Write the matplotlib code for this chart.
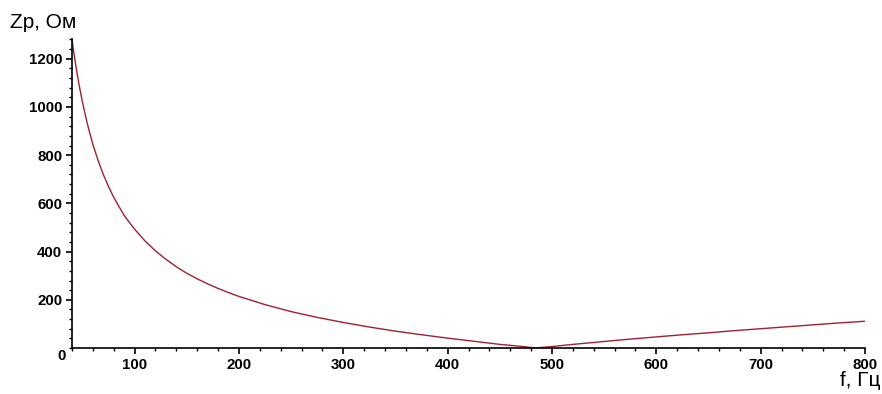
import matplotlib
matplotlib.use("Agg")
import matplotlib.pyplot as plt
from matplotlib.ticker import MultipleLocator

# Values
freq_hz = [40, 42, 45, 47, 50, 55, 60, 65, 70, 75, 80, 85, 90, 95, 100, 110, 120, 130,
           140, 150, 160, 170, 180, 190, 200, 225, 250, 275, 300, 325, 350, 375, 400,
           425, 450, 460, 470, 475, 480, 485, 490, 495, 500, 520, 550, 575, 600, 625,
           650, 675, 700, 725, 750, 775, 800]
impedance_ohm = [1280, 1218, 1135, 1087, 1020, 925, 845, 778, 720, 670, 625, 587, 550,
                 521, 493, 444, 403, 368, 337, 310, 287, 266, 247, 230, 214, 180, 151,
                 127, 106, 87, 70, 55, 41, 28, 15, 11, 7, 4.5, 2, 0, 2, 4, 6, 15, 27,
                 37, 46, 55, 63, 72, 80, 88, 96, 104, 111]
x_ticks = [100, 200, 300, 400, 500, 600, 700, 800]
y_ticks = [200, 400, 600, 800, 1000, 1200]
y_label = "Zp, Ом"
x_label = "f, Гц"

fig = plt.figure(figsize=(8.82, 3.94), dpi=100)
ax = fig.add_axes([72 / 882, 46 / 394, 793 / 882, 309 / 394])

ax.plot(freq_hz, impedance_ohm, color="#a3202f", lw=1.0)
ax.set_xlim(40, 800)
ax.set_ylim(0, 1282)

for s in ("top", "right"):
    ax.spines[s].set_visible(False)
for s in ("left", "bottom"):
    ax.spines[s].set_linewidth(1.2)
    ax.spines[s].set_color("black")

tick_font = dict(family=["Liberation Sans", "DejaVu Sans"], weight="bold", size=10.8)
ax.set_xticks(x_ticks)
ax.set_xticklabels([str(v) for v in x_ticks], fontdict=tick_font)
ax.set_yticks(y_ticks)
ax.set_yticklabels([str(v) for v in y_ticks], fontdict=tick_font)
ax.xaxis.set_minor_locator(MultipleLocator(20))
ax.yaxis.set_minor_locator(MultipleLocator(40))
ax.tick_params(which="major", direction="out", length=4, width=1.2, pad=3)
ax.tick_params(which="minor", direction="out", length=2, width=1.0)

fig.text(66 / 882, 1 - 349 / 394, "0", ha="right", va="top", **tick_font)

fig.text(10 / 882, 1 - 22 / 394, y_label, ha="left", va="center",
         family=["Liberation Sans", "DejaVu Sans"], size=15)
fig.text(881 / 882, 1 - 381 / 394, x_label, ha="right", va="center",
         family=["Liberation Sans", "DejaVu Sans"], size=15)

fig.savefig("out.png", dpi=100, facecolor="white")
